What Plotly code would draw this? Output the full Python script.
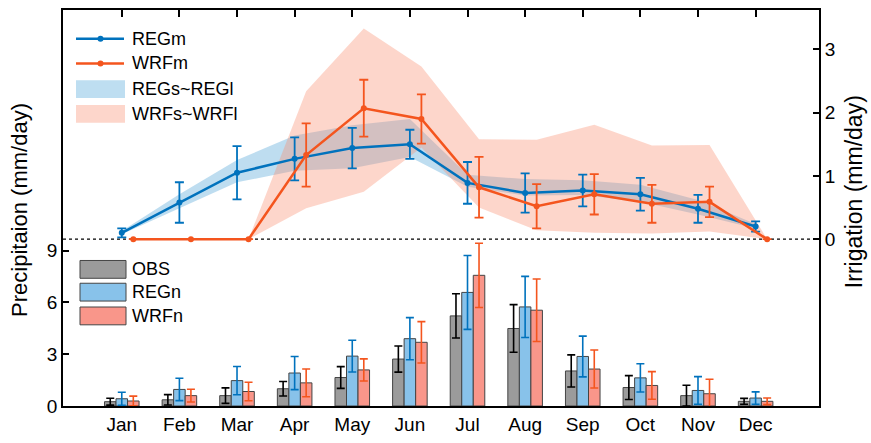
import plotly.graph_objects as go

# ---------------- data ----------------
months = ["Jan", "Feb", "Mar", "Apr", "May", "Jun", "Jul", "Aug", "Sep", "Oct", "Nov", "Dec"]
month_idx = [1, 2, 3, 4, 5, 6, 7, 8, 9, 10, 11, 12]

# precipitation bars (mm/day), left axis
obs_p = [0.25, 0.36, 0.60, 1.00, 1.65, 2.72, 5.22, 4.49, 2.03, 1.07, 0.60, 0.27]
obs_e = [0.20, 0.30, 0.45, 0.42, 0.63, 0.76, 1.28, 1.38, 0.93, 0.69, 0.60, 0.17]
reg_p = [0.42, 0.96, 1.47, 1.91, 2.89, 3.90, 6.58, 5.74, 2.87, 1.63, 0.90, 0.46]
reg_e = [0.38, 0.65, 0.82, 0.96, 0.92, 1.22, 2.14, 1.77, 1.18, 0.82, 0.80, 0.36]
wrf_p = [0.29, 0.60, 0.84, 1.34, 2.09, 3.69, 7.57, 5.55, 2.14, 1.19, 0.71, 0.27]
wrf_e = [0.28, 0.37, 0.54, 0.80, 0.64, 1.20, 1.86, 1.81, 1.10, 0.80, 0.84, 0.19]

# irrigation (mm/day), right axis
reg_m = [0.10, 0.58, 1.05, 1.27, 1.44, 1.50, 0.89, 0.73, 0.77, 0.71, 0.48, 0.20]
reg_me = [0.07, 0.32, 0.42, 0.34, 0.32, 0.23, 0.33, 0.31, 0.25, 0.26, 0.22, 0.08]
wrf_m = [0.0, 0.0, 0.0, 1.33, 2.07, 1.90, 0.82, 0.52, 0.71, 0.56, 0.59, 0.0]
wrf_me = [0.0, 0.0, 0.0, 0.50, 0.45, 0.39, 0.48, 0.35, 0.32, 0.30, 0.24, 0.0]

reg_lo = [0.08, 0.49, 0.90, 1.08, 1.12, 1.30, 0.83, 0.69, 0.70, 0.59, 0.39, 0.17]
reg_hi = [0.13, 0.71, 1.25, 1.64, 1.80, 1.90, 1.02, 0.95, 0.93, 0.86, 0.62, 0.24]
wrf_lo = [0.0, 0.0, 0.0, 0.49, 0.75, 1.45, 0.50, 0.14, 0.10, 0.09, 0.12, 0.0]
wrf_hi = [0.0, 0.0, 0.0, 2.34, 3.33, 2.73, 1.58, 1.57, 1.81, 1.48, 1.49, 0.0]

left_ticks = [0, 3, 6, 9]
right_ticks = [0, 1, 2, 3]

# ---------------- style ----------------
BLUE = "#0072BD"
ORANGE = "#F4551E"
BAND_BLUE = "rgba(100,175,220,0.42)"
BAND_PINK = "rgba(250,140,110,0.36)"
BAND_BLUE_SW = "rgb(190,222,241)"
BAND_PINK_SW = "rgb(253,214,203)"
OBS_C = "#9B9B9B"
REGN_C = "#88C2EA"
WRFN_C = "#F9968A"
FONT = "Liberation Sans, Arial, Helvetica, sans-serif"

W, H = 871, 443
ML, MR, MT, MB = 63, 52, 8, 35


def px(x):
    return (x - ML) / (W - ML - MR)


def py(y):
    return (H - MB - y) / (H - MT - MB)


wrf_x = [m + 0.2 for m in month_idx]

fig = go.Figure()

# bars (left axis)
for vals, errs, col, ecol in [(obs_p, obs_e, OBS_C, "black"),
                               (reg_p, reg_e, REGN_C, BLUE),
                               (wrf_p, wrf_e, WRFN_C, ORANGE)]:
    fig.add_trace(go.Bar(
        x=month_idx, y=vals, yaxis="y",
        marker=dict(color=col, line=dict(color="#444444", width=1)),
        error_y=dict(type="data", array=errs, color=ecol, thickness=1.6, width=4),
        showlegend=False, hoverinfo="skip"))

# bands (right axis)
fig.add_trace(go.Scatter(
    x=month_idx + month_idx[::-1], y=reg_hi + reg_lo[::-1], yaxis="y2",
    fill="toself", fillcolor=BAND_BLUE, line=dict(width=0), mode="lines",
    showlegend=False, hoverinfo="skip"))
fig.add_trace(go.Scatter(
    x=wrf_x + wrf_x[::-1], y=wrf_hi + wrf_lo[::-1], yaxis="y2",
    fill="toself", fillcolor=BAND_PINK, line=dict(width=0), mode="lines",
    showlegend=False, hoverinfo="skip"))

# mean lines
fig.add_trace(go.Scatter(
    x=month_idx, y=reg_m, yaxis="y2", mode="lines+markers",
    line=dict(color=BLUE, width=2.5), marker=dict(color=BLUE, size=6),
    error_y=dict(type="data", array=reg_me, color=BLUE, thickness=1.8, width=4.5),
    showlegend=False, hoverinfo="skip"))
fig.add_trace(go.Scatter(
    x=wrf_x, y=wrf_m, yaxis="y2", mode="lines+markers",
    line=dict(color=ORANGE, width=2.5), marker=dict(color=ORANGE, size=6),
    error_y=dict(type="data", array=wrf_me, color=ORANGE, thickness=1.8, width=4.5),
    showlegend=False, hoverinfo="skip"))

shapes = []
annotations = []

# dotted zero line of the irrigation axis
shapes.append(dict(type="line", xref="paper", yref="y2", x0=0, x1=1, y0=0, y1=0,
                   line=dict(color="black", width=1.3, dash="dot"), layer="below"))

# legend 1 (lines and bands)
leg1 = [(37, "REGm", "line", BLUE), (62, "WRFm", "line", ORANGE),
        (88, "REGs~REGl", "band", BAND_BLUE_SW), (113, "WRFs~WRFl", "band", BAND_PINK_SW)]
for row, label, kind, col in leg1:
    if kind == "line":
        shapes.append(dict(type="line", xref="paper", yref="paper",
                           x0=px(76), x1=px(124), y0=py(row), y1=py(row),
                           line=dict(color=col, width=2.5)))
        shapes.append(dict(type="circle", xref="paper", yref="paper",
                           x0=px(97.5), x1=px(103.5), y0=py(row + 3), y1=py(row - 3),
                           fillcolor=col, line=dict(color=col, width=0)))
    else:
        shapes.append(dict(type="rect", xref="paper", yref="paper",
                           x0=px(76), x1=px(125), y0=py(row + 9), y1=py(row - 9),
                           fillcolor=col, line=dict(width=0)))
    annotations.append(dict(x=px(130), y=py(row), xref="paper", yref="paper",
                            text=label, showarrow=False, xanchor="left", yanchor="middle",
                            font=dict(family=FONT, size=18, color="black")))

# legend 2 (bars)
leg2 = [(270, "OBS", OBS_C), (293, "REGn", REGN_C), (317, "WRFn", WRFN_C)]
for row, label, col in leg2:
    shapes.append(dict(type="rect", xref="paper", yref="paper",
                       x0=px(80), x1=px(126), y0=py(row + 9), y1=py(row - 9),
                       fillcolor=col, line=dict(color="#444444", width=1)))
    annotations.append(dict(x=px(130), y=py(row), xref="paper", yref="paper",
                            text=label, showarrow=False, xanchor="left", yanchor="middle",
                            font=dict(family=FONT, size=18, color="black")))

# axis titles
annotations.append(dict(x=px(20), y=py(210), xref="paper", yref="paper",
                        text="Precipitaion (mm/day)", showarrow=False, textangle=-90,
                        xanchor="center", yanchor="middle",
                        font=dict(family=FONT, size=22, color="black")))
annotations.append(dict(x=px(854), y=py(192), xref="paper", yref="paper",
                        text="Irrigation (mm/day)", showarrow=False, textangle=-90,
                        xanchor="center", yanchor="middle",
                        font=dict(family=FONT, size=23, color="black")))

fig.update_layout(
    width=W, height=H,
    margin=dict(l=ML, r=MR, t=MT, b=MB, pad=0),
    paper_bgcolor="white", plot_bgcolor="white",
    barmode="group", bargap=0.4, bargroupgap=0,
    showlegend=False,
    font=dict(family=FONT, size=19, color="black"),
    xaxis=dict(range=[-0.02, 13.1], tickmode="array", tickvals=month_idx, ticktext=months,
               ticks="inside", ticklen=7, tickwidth=1.5, tickcolor="black",
               showline=True, linecolor="black", linewidth=1.8, mirror="ticks",
               showgrid=False, zeroline=False, layer="below traces",
               tickfont=dict(family=FONT, size=19, color="black")),
    yaxis=dict(range=[0, 22.94], tickmode="array", tickvals=left_ticks,
               ticks="inside", ticklen=6, tickwidth=1.5, tickcolor="black",
               showline=True, linecolor="black", linewidth=1.8,
               showgrid=False, zeroline=False,
               tickfont=dict(family=FONT, size=19, color="black")),
    yaxis2=dict(range=[-2.637, 3.623], tickmode="array", tickvals=right_ticks,
                overlaying="y", side="right",
                ticks="inside", ticklen=6, tickwidth=1.5, tickcolor="black",
                showline=True, linecolor="black", linewidth=1.8,
                showgrid=False, zeroline=False,
                tickfont=dict(family=FONT, size=19, color="black")),
    shapes=shapes, annotations=annotations,
)

fig.write_html("out.html")
